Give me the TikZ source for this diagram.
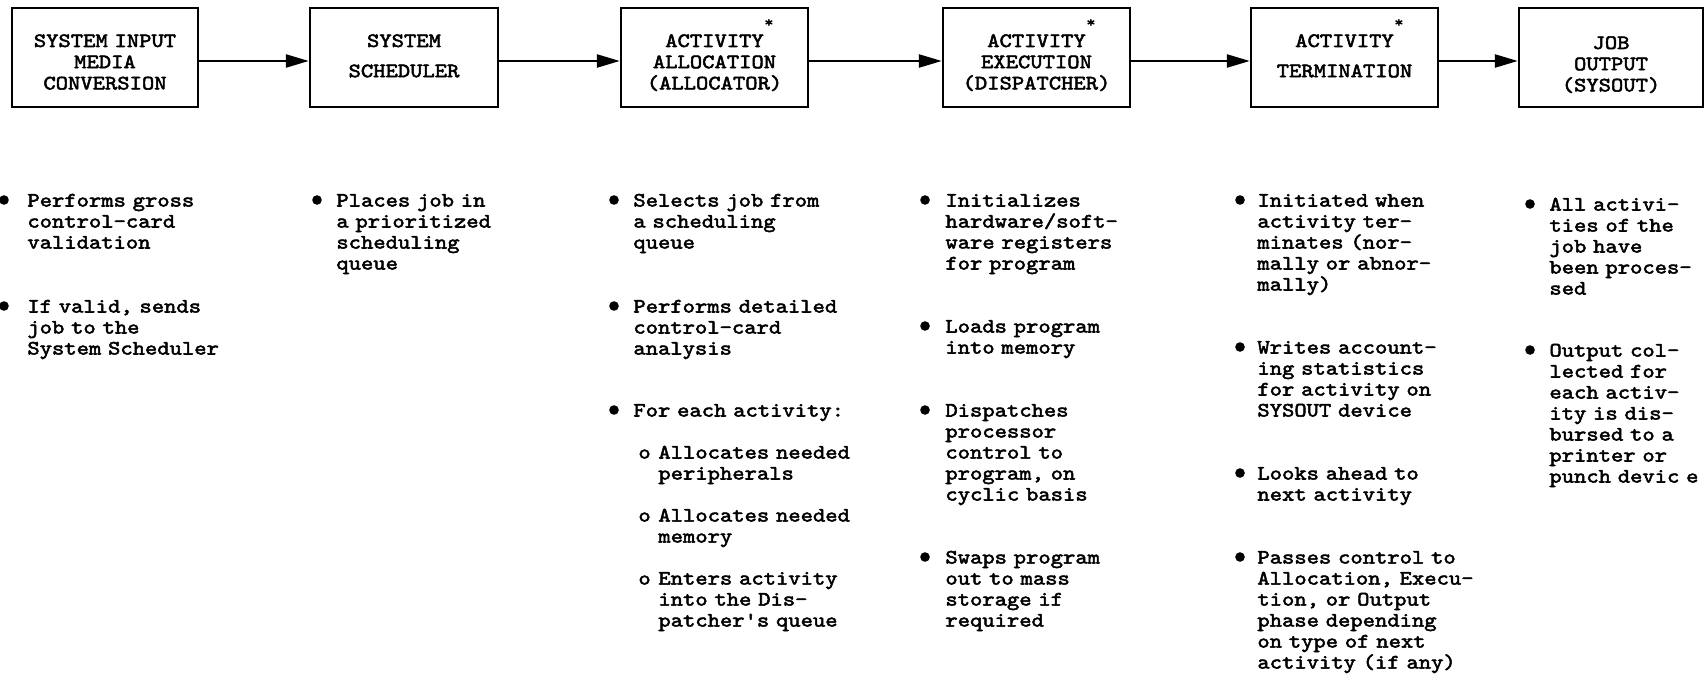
\documentclass[tikz,border=0pt]{standalone}
\usepackage{fontspec}
\setmonofont{lmmono10-regular.otf}[FakeStretch=1.15,FakeBold=2.5]
\usetikzlibrary{arrows.meta}
\newcommand\astk{\rlap{\kern0.3pt\raisebox{10pt}{\fontsize{7.5}{7.5}\selectfont *}}}
\newcommand\bul[5]{%
  \node[dotn] (#1d) at (#2,#4) {};
  \node[item] (#1) at (#3,#4+6.5) {#5};}
\newcommand\subit[5]{%
  \node[anchor=base west, inner sep=0pt] (#1o) at (#2,#4+6.5) {o};
  \node[item] (#1) at (#3,#4+6.5) {#5};}
\begin{document}
\begin{tikzpicture}[x=0.5pt,y=-0.5pt,
  every node/.style={font=\ttfamily\fontsize{10.2}{10.5}\selectfont},
  box/.style={draw, line width=1.2pt, minimum height=49.5pt, inner sep=0pt,
     text width=88pt, align=center, font=\ttfamily\fontsize{10.2}{10.6}\selectfont},
  bl47/.style={text height=14.75pt, text depth=25.25pt},
  bl49/.style={text height=15.75pt, text depth=24.25pt},
  item/.style={anchor=base west, text width=200pt, align=left, inner sep=0pt},
  dotn/.style={circle, fill, inner sep=0pt, minimum size=4.8pt},
  flow/.style={line width=1.2pt, -{Triangle[length=11.5pt,width=6.5pt]}}]
\useasboundingbox (0,0) rectangle (1706,674);
% boxes
\node[box, bl47, minimum width=93pt] (b1) at (105,57.5) {SYSTEM INPUT\\MEDIA\\CONVERSION};
\node[box, bl47, minimum width=94pt] (b2) at (404,57.5) {SYSTEM\\[4.5pt]SCHEDULER};
\node[box, bl47, minimum width=93.5pt] (b3) at (714.5,57.5) {ACTIVITY\astk\\ALLOCATION\\(ALLOCATOR)};
\node[box, bl47, minimum width=93.5pt] (b4) at (1036.5,57.5) {ACTIVITY\astk\\EXECUTION\\(DISPATCHER)};
\node[box, bl47, minimum width=93.5pt] (b5) at (1344.5,57.5) {ACTIVITY\astk\\[4.5pt]TERMINATION};
\node[box, bl49, minimum width=92pt] (b6) at (1611,57.5) {JOB\\OUTPUT\\(SYSOUT)};
% arrows
\foreach \a/\b in {b1/b2,b2/b3,b3/b4,b4/b5,b5/b6}
  \draw[flow] ([yshift=-1.75pt]\a.east) -- ([yshift=-1.75pt]\b.west);
% column 1
\bul{a1}{4}{27}{200}{Performs gross\\control-card\\validation}
\bul{a2}{4}{27}{306}{If valid, sends\\job to the\\System Scheduler}
% column 2
\bul{s1}{317}{336}{200}{Places job in\\a prioritized\\scheduling\\queue}
% column 3
\bul{c1}{614}{633}{200}{Selects job from\\a scheduling\\queue}
\bul{c2}{614}{633}{306}{Performs detailed\\control-card\\analysis}
\bul{c3}{614}{633}{410}{For each activity:}
\subit{c4}{638}{658}{452}{Allocates needed\\peripherals}
\subit{c5}{638}{658}{515}{Allocates needed\\memory}
\subit{c6}{638}{658}{578}{Enters activity\\into the Dis-\\patcher's queue}
% column 4
\bul{d1}{925}{945}{200}{Initializes\\hardware/soft-\\ware registers\\for program}
\bul{d2}{925}{945}{326}{Loads program\\into memory}
\bul{d3}{925}{945}{410}{Dispatches\\processor\\control to\\program, on\\cyclic basis}
\bul{d4}{925}{945}{557}{Swaps program\\out to mass\\storage if\\required}
% column 5
\bul{e1}{1240}{1257}{200}{Initiated when\\activity ter-\\minates (nor-\\mally or abnor-\\mally)}
\bul{e2}{1240}{1257}{347}{Writes account-\\ing statistics\\for activity on\\SYSOUT device}
\bul{e3}{1240}{1257}{473}{Looks ahead to\\next activity}
\bul{e4}{1240}{1257}{557}{Passes control to\\Allocation, Execu-\\tion, or Output\\phase depending\\on type of next\\activity (if any)}
% column 6
\bul{f1}{1530}{1549}{204}{All activi-\\ties of the\\job have\\been proces-\\sed}
\bul{f2}{1530}{1549}{350}{Output col-\\lected for\\each activ-\\ity is dis-\\bursed to a\\printer or\\punch devic e}
\end{tikzpicture}
\end{document}
